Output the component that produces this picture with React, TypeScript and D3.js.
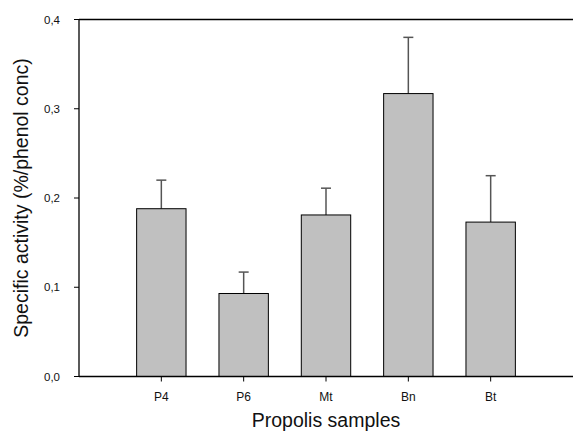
import React, { useEffect, useRef } from 'react';
import * as d3 from 'd3';

// sample names and readings taken off the figure
const samples = ['P4', 'P6', 'Mt', 'Bn', 'Bt'];
const activity = [0.188, 0.093, 0.181, 0.317, 0.173];
const errors = [0.032, 0.024, 0.030, 0.063, 0.052];
const yTicks = [0, 0.1, 0.2, 0.3, 0.4];

const width = 573;
const height = 436;

export default function App() {
  const ref = useRef<SVGSVGElement>(null);

  useEffect(() => {
    const svg = d3.select(ref.current);
    svg.selectAll('*').remove();

    const left = 79, right = 573, top = 19.5, bottom = 376.5;
    const font = '"Liberation Sans", Arial, sans-serif';

    const x = d3.scalePoint<string>().domain(samples).range([left, right]).padding(1);
    const y = d3.scaleLinear().domain([0, 0.4]).range([bottom, top]);
    const barW = x.step() * 0.6;
    const fmt = (d: number) => d3.format('.1f')(d).replace('.', ',');

    const data = samples.map((s, i) => ({ name: s, value: activity[i], err: errors[i] }));

    // error bars (upper only), drawn before bars
    const eb = svg.append('g').attr('stroke', '#555').attr('stroke-width', 1.5);
    data.forEach(d => {
      const cx = x(d.name)!;
      eb.append('line').attr('x1', cx).attr('x2', cx)
        .attr('y1', y(d.value)).attr('y2', y(d.value + d.err));
      eb.append('line').attr('x1', cx - 5).attr('x2', cx + 5)
        .attr('y1', y(d.value + d.err)).attr('y2', y(d.value + d.err));
    });

    svg.append('g').selectAll('rect')
      .data(data)
      .enter()
      .append('rect')
      .attr('x', d => x(d.name)! - barW / 2)
      .attr('y', d => y(d.value))
      .attr('width', barW)
      .attr('height', d => bottom - y(d.value))
      .attr('fill', '#c0c0c0')
      .attr('stroke', '#000')
      .attr('stroke-width', 1);

    // frame lines
    const frame = svg.append('g').attr('stroke', '#000').attr('stroke-width', 1.3);
    frame.append('line').attr('x1', left).attr('x2', right).attr('y1', top).attr('y2', top);
    frame.append('line').attr('x1', left).attr('x2', left).attr('y1', top).attr('y2', bottom);
    frame.append('line').attr('x1', left).attr('x2', right).attr('y1', bottom).attr('y2', bottom);

    // y ticks
    const yt = svg.append('g');
    yTicks.forEach(t => {
      yt.append('line').attr('x1', left - 5).attr('x2', left)
        .attr('y1', y(t)).attr('y2', y(t)).attr('stroke', '#000');
      yt.append('text').attr('x', left - 19).attr('y', y(t) + 4)
        .attr('text-anchor', 'end').attr('font-family', font).attr('font-size', 11.5)
        .attr('fill', '#111').text(fmt(t));
    });

    // x ticks
    const xt = svg.append('g');
    samples.forEach(s => {
      xt.append('line').attr('x1', x(s)!).attr('x2', x(s)!)
        .attr('y1', bottom).attr('y2', bottom + 5).attr('stroke', '#000');
      xt.append('text').attr('x', x(s)!).attr('y', 401)
        .attr('text-anchor', 'middle').attr('font-family', font).attr('font-size', 12)
        .attr('fill', '#111').text(s);
    });

    svg.append('text').attr('x', (left + right) / 2).attr('y', 427)
      .attr('text-anchor', 'middle').attr('font-family', font).attr('font-size', 19.5)
      .attr('fill', '#111').text('Propolis samples');

    svg.append('text')
      .attr('transform', `translate(28,${(top + bottom) / 2}) rotate(-90)`)
      .attr('text-anchor', 'middle').attr('font-family', font).attr('font-size', 19.5)
      .attr('fill', '#111').text('Specific activity (%/phenol conc)');
  }, []);

  return (
    <svg ref={ref} width={width} height={height}
      style={{ position: 'absolute', left: 0, top: 0, background: '#fff' }} />
  );
}
